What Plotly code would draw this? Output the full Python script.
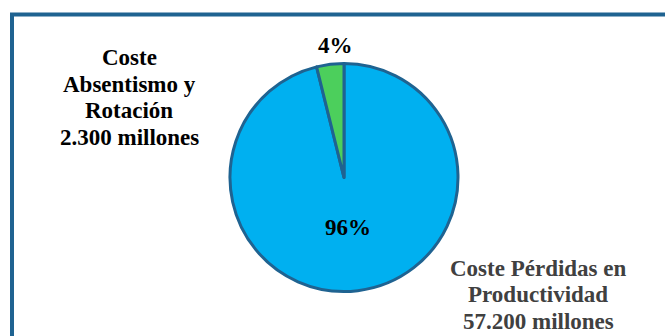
import plotly.graph_objects as go

labels = ["Coste Pérdidas en Productividad", "Coste Absentismo y Rotación"]
values = [57200, 2300]
colors = ["#00B0F0", "#4CCF5C"]
label_lines = [["Coste Pérdidas en", "Productividad", "57.200 millones"],
               ["Coste", "Absentismo y", "Rotación", "2.300 millones"]]

total = sum(values)
pcts = [f"{round(v / total * 100)}%" for v in values]

W, H = 665, 336
fig = go.Figure()
fig.add_trace(go.Pie(
    labels=labels, values=values, sort=False, direction="clockwise",
    marker=dict(colors=colors, line=dict(color="#1F6391", width=3)),
    textinfo="none", hoverinfo="label+value+percent", showlegend=False,
    domain=dict(x=[230 / W, 458 / W], y=[1 - 292 / H, 1 - 63 / H]),
))

font_b = "Liberation Serif"
FS = 23


def add_text(x, y, text, color):
    fig.add_annotation(x=x / W, y=1 - y / H, xref="paper", yref="paper",
                       text=f"<b>{text}</b>", showarrow=False, align="center",
                       xanchor="center", yanchor="middle",
                       font=dict(family=font_b, size=FS, color=color))


add_text(335, 45.5, pcts[1], "#000000")
add_text(348, 227.5, pcts[0], "#000000")
for i, line in enumerate(label_lines[1]):
    add_text(129, 57.5 + i * 26.7, line, "#000000")
for i, line in enumerate(label_lines[0]):
    add_text(538, 268 + i * 26.7, line, "#404040")

fig.add_shape(type="rect", xref="paper", yref="paper",
              x0=12 / W, x1=1.2, y0=-0.2, y1=1 - 14.5 / H,
              line=dict(color="#1F6391", width=4), fillcolor="rgba(0,0,0,0)")

fig.update_layout(width=W, height=H, margin=dict(l=0, r=0, t=0, b=0),
                  paper_bgcolor="white", plot_bgcolor="white")
fig.write_html("out.html")
